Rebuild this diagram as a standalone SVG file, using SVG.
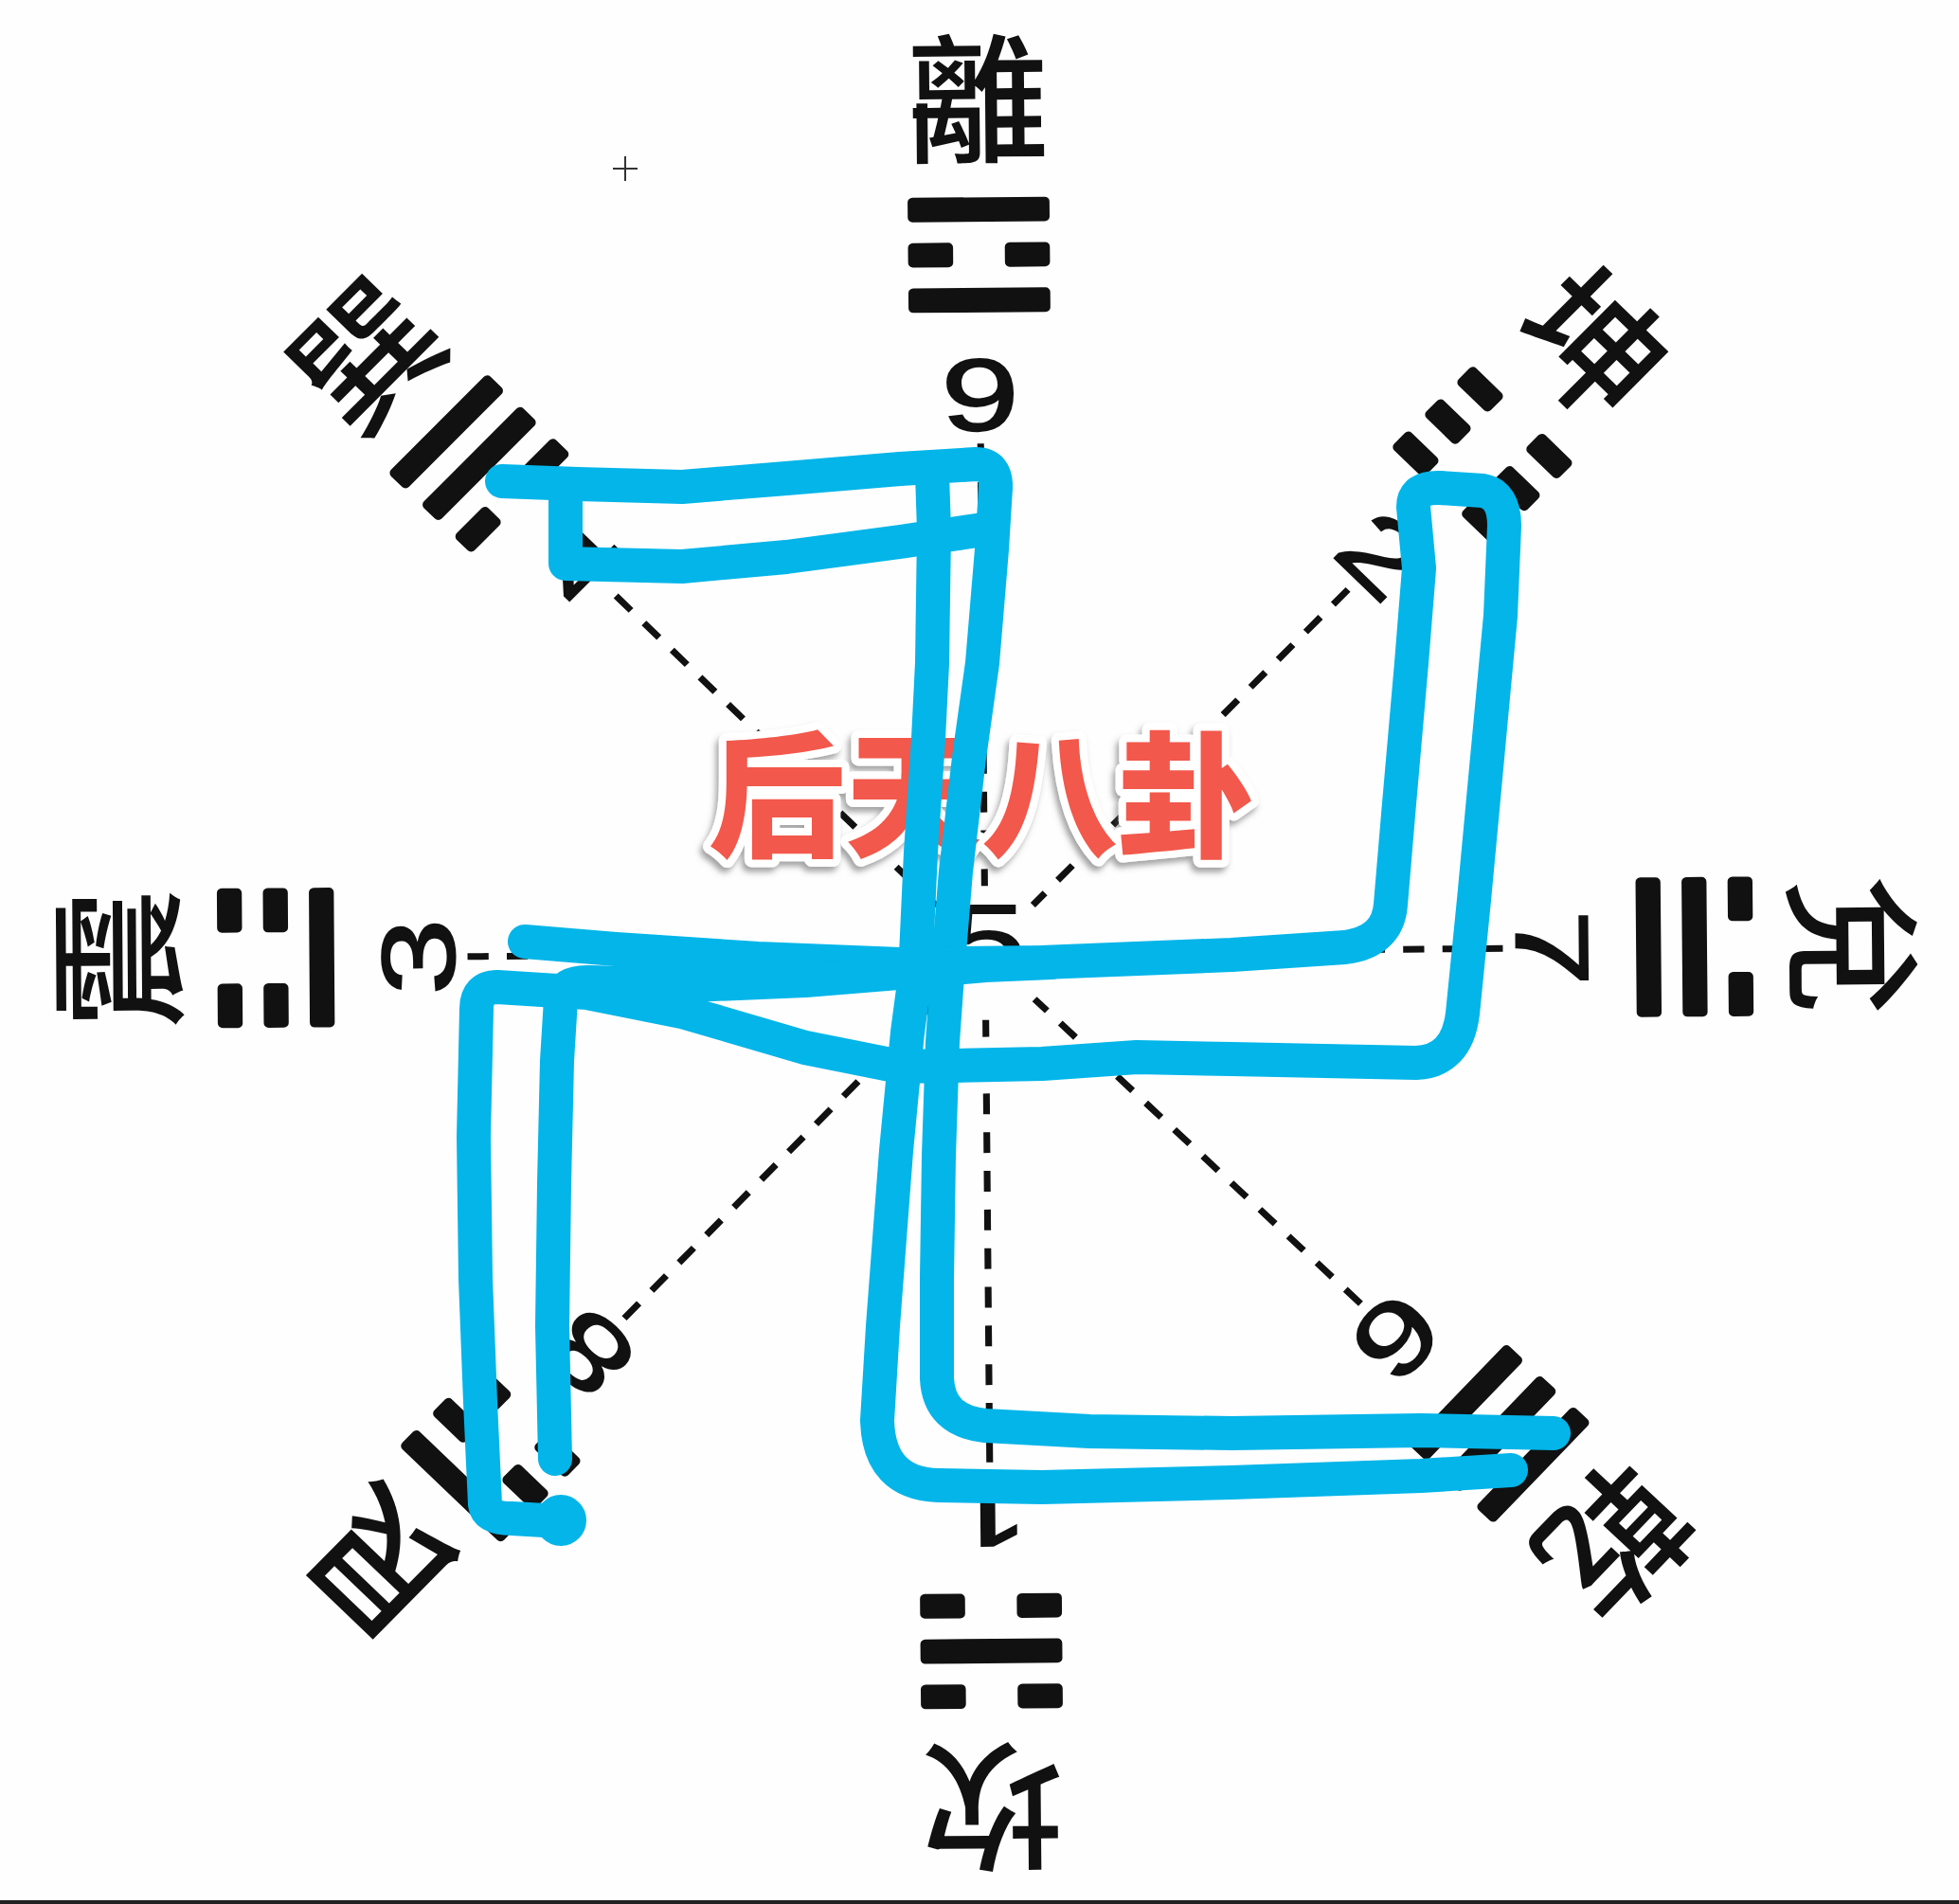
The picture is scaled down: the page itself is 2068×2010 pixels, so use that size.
<svg xmlns="http://www.w3.org/2000/svg" width="2068" height="2010" viewBox="0 0 2068 2010">
<defs>
<style>
.ch{font-family:"Noto Sans CJK TC","Noto Sans CJK SC",sans-serif;font-weight:500;font-size:148px;fill:#111;text-anchor:middle}
.num{font-family:"Liberation Sans",Arial,sans-serif;font-size:108px;fill:#111;stroke:#111;stroke-width:2;text-anchor:middle}
.dash{stroke:#111;stroke-width:7;stroke-dasharray:22 19;fill:none}
.blue{fill:none;stroke:#03B5E9;stroke-width:36;stroke-linecap:round;stroke-linejoin:round}
.title{font-family:"Noto Sans CJK SC",sans-serif;font-weight:900;font-size:144px;text-anchor:middle}
</style>
<g id="yang"><rect x="-74" y="-13" width="148" height="26" rx="5"/></g>
<g id="yin"><rect x="-74" y="-13" width="47" height="26" rx="5"/><rect x="27" y="-13" width="47" height="26" rx="5"/></g>
<filter id="sh" x="-10%" y="-20%" width="120%" height="150%"><feDropShadow dx="-3" dy="5" stdDeviation="3" flood-color="#555" flood-opacity="0.55"/></filter>
</defs>
<rect width="2068" height="2010" fill="#fefefe"/>
<g id="diagram" fill="#111" transform="translate(1040 1006) scale(1.012 0.996) translate(-1040 -1006)">
<g id="li" transform="rotate(-0.5 1040 1006)">
<text class="ch" x="1040" y="157">離</text>
<use href="#yang" x="1040" y="218"/><use href="#yin" x="1040" y="266"/><use href="#yang" x="1040" y="314"/>
<text class="num" transform="translate(1040 452) scale(1.35 1)">9</text>
<line class="dash" x1="1040" y1="466" x2="1040" y2="935"/>
</g>
<g id="kun" transform="rotate(44.5 1040 1006)">
<text class="ch" x="1040" y="157">坤</text>
<use href="#yin" x="1040" y="218"/><use href="#yin" x="1040" y="266"/><use href="#yin" x="1040" y="314"/>
<text class="num" transform="translate(1040 452) scale(1.35 1)">2</text>
<line class="dash" x1="1040" y1="466" x2="1040" y2="935"/>
</g>
<g id="dui" transform="rotate(89.5 1040 1006)">
<text class="ch" x="1040" y="157">兌</text>
<use href="#yin" x="1040" y="218"/><use href="#yang" x="1040" y="266"/><use href="#yang" x="1040" y="314"/>
<text class="num" transform="translate(1040 452) scale(1.35 1)">7</text>
<line class="dash" x1="1040" y1="466" x2="1040" y2="935"/>
</g>
<g id="qian" transform="rotate(133.5 1040 1006)">
<text class="ch" x="1040" y="157">乾</text>
<use href="#yang" x="1040" y="218"/><use href="#yang" x="1040" y="266"/><use href="#yang" x="1040" y="314"/>
<text class="num" transform="translate(1040 452) scale(1.35 1)">6</text>
<line class="dash" x1="1040" y1="466" x2="1040" y2="935"/>
</g>
<g id="kan" transform="rotate(179.5 1040 1006)">
<text class="ch" x="1040" y="157">坎</text>
<use href="#yin" x="1040" y="218"/><use href="#yang" x="1040" y="266"/><use href="#yin" x="1040" y="314"/>
<text class="num" transform="translate(1040 452) scale(1.35 1)">1</text>
<line class="dash" x1="1040" y1="466" x2="1040" y2="935"/>
</g>
<g id="gen" transform="rotate(224.2 1040 1006)">
<text class="ch" x="1040" y="157">艮</text>
<use href="#yang" x="1040" y="218"/><use href="#yin" x="1040" y="266"/><use href="#yin" x="1040" y="314"/>
<text class="num" transform="translate(1040 452) scale(1.35 1)">8</text>
<line class="dash" x1="1040" y1="466" x2="1040" y2="935"/>
</g>
<g id="zhen" transform="rotate(269.6 1040 1006)">
<text class="ch" x="1040" y="157">震</text>
<use href="#yin" x="1040" y="218"/><use href="#yin" x="1040" y="266"/><use href="#yang" x="1040" y="314"/>
<text class="num" transform="translate(1040 452) scale(1.35 1)">3</text>
<line class="dash" x1="1040" y1="466" x2="1040" y2="935"/>
</g>
<g id="xun" transform="rotate(314.5 1040 1006)">
<text class="ch" x="1040" y="157">巽</text>
<use href="#yang" x="1040" y="218"/><use href="#yang" x="1040" y="266"/><use href="#yin" x="1040" y="314"/>
<text class="num" transform="translate(1040 452) scale(1.35 1)">4</text>
<line class="dash" x1="1040" y1="466" x2="1040" y2="935"/>
</g>
<text id="center5" class="num" transform="translate(1042 1030) scale(1.35 1)">5</text>
</g>
<g id="cursor" stroke="#333" stroke-width="2"><line x1="647" y1="178" x2="673" y2="178"/><line x1="660" y1="165" x2="660" y2="191"/></g>
<g id="title" filter="url(#sh)">
<text class="title" x="1036" y="894" fill="#fff" stroke="#fff" stroke-width="16" stroke-linejoin="round">后天八卦</text>
<text class="title" x="1036" y="894" fill="#F2594B">后天八卦</text>
</g>
<g id="connectors" class="blue">
<path d="M530,508 L610,511 L720,514 L830,505 L950,495 L1030,490 Q1052,490 1051,515 L1047,580 L1037,700 L1023,800 L1009,920 L1000,1030 L995,1100 L991,1220 L989,1350 L989,1455 Q991,1500 1040,1505 L1150,1511 L1300,1513 L1500,1510 L1640,1513"/>
<path d="M597,512 L597,595 L720,598 L830,588 L950,572 L1045,558"/>
<path d="M984,500 L986,560 L984,700 L980,780 L972,900 L966,1030 L958,1090 L946,1215 L932,1400 L926,1500 Q928,1566 990,1568 L1100,1570 L1300,1565 L1500,1558 L1595,1552"/>
<path d="M554,994 L650,1002 L800,1012 L950,1018 L1100,1016 L1300,1008 L1420,1000 Q1465,994 1468,955 L1476,860 L1490,700 L1498,600 L1492,535 Q1492,514 1520,515 L1565,518 Q1588,522 1588,555 L1584,650 L1570,800 L1556,950 L1544,1070 Q1538,1120 1495,1122 L1300,1118 L1200,1116 L1100,1123 L950,1126 L850,1106 L720,1068 L620,1048 L525,1042 Q503,1042 503,1065 L500,1200 L502,1350 L507,1480 L512,1588 Q514,1603 540,1603 L592,1606"/>
<path d="M586,1540 L583,1400 L585,1250 L588,1120 L592,1055 Q594,1036 622,1037 L730,1040 L850,1035 L960,1026 L1040,1019 L1110,1016"/>
<circle cx="592" cy="1605" r="6" stroke-width="42"/>
</g>
<rect id="border" x="0" y="2006" width="2068" height="4" fill="#222"/>
</svg>
